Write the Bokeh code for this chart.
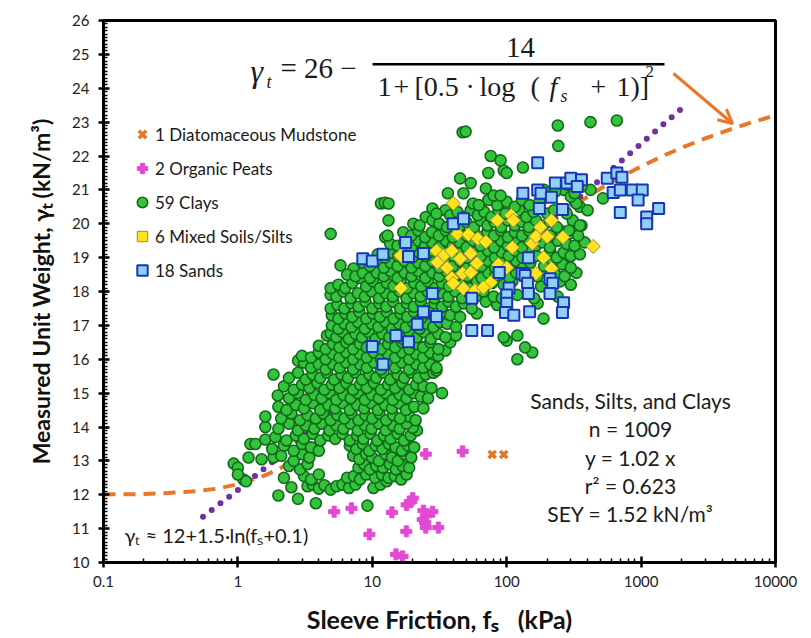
from bokeh.plotting import figure
from bokeh.models import (Label, Legend, LegendItem, BoxAnnotation, Arrow, OpenHead,
                          SingleIntervalTicker, FixedTicker, CustomJSTickFormatter)
from bokeh.embed import file_html
from bokeh.resources import INLINE

# ---------------- data ----------------
# fitted curve gamma_t = 26 - 14/(1+[0.5 log(fs+1)]^2)
orange_fs = [0.1, 0.2, 0.3, 0.5, 0.7, 1, 1.5, 2, 3, 5, 7, 10, 15, 20, 30, 50, 70, 100, 150,
             200, 300, 500, 700, 1000, 1500, 2000, 3000, 5000, 7000, 10000]
orange_gt = [12.01, 12.02, 12.05, 12.11, 12.18, 12.31, 12.53, 12.75, 13.16, 13.84, 14.37, 14.99,
             15.72, 16.26, 17.00, 17.90, 18.46, 19.02, 19.60, 19.98, 20.48, 21.04, 21.37, 21.69,
             22.03, 22.24, 22.52, 22.83, 23.02, 23.20]
# approximation gamma_t ~ 12 + 1.5 ln(fs + 0.1)
purple_fs = [0.55, 0.7, 1, 1.5, 2, 3, 5, 7, 10, 20, 30, 50, 70, 100, 200, 300, 500, 700, 1000, 1500, 2000]
purple_gt = [11.35, 11.67, 12.14, 12.71, 13.11, 13.70, 14.44, 14.94, 15.47, 16.50, 17.11, 17.87,
             18.38, 18.91, 19.95, 20.56, 21.32, 21.83, 22.36, 22.97, 23.40]

clay_fs = (
    [2.0, 2.8, 3.8, 9.2, 1.1, 1.15, 2.5, 3.3, 3.6, 4.0, 4.4, 4.9, 5.4, 6.0, 6.7, 7.5, 10.2, 11.5, 12.8]
    + [0.93, 1.0, 1.0, 1.2, 1.24, 1.35, 1.6, 1.84, 1.5]
    + [2.2, 3.1, 3.5, 4.0, 6.5, 7.3, 8.1, 9.0, 10.5, 11.8, 13.2, 14.7, 16.4, 18.0]
    + [2.4, 2.9, 3.3, 7.9, 8.7, 9.6, 10.7, 12.0, 13.5, 15.0, 16.8, 18.8]
    + [2.1, 2.6, 3.0, 3.4, 7.2, 8.0, 9.0, 10.0, 11.2, 12.5, 14.0, 15.5, 17.3, 19.5]
    + [1.8, 2.2, 2.6, 3.0, 3.5, 4.0, 6.8, 7.6, 8.5, 9.5, 10.6, 11.9, 13.3, 14.9, 16.6, 18.5, 20.5]
    + [1.9, 2.3, 2.7, 3.1, 3.6, 4.1, 4.7, 5.3, 6.0, 6.8, 7.7, 8.6, 9.7, 10.9, 12.2, 13.7, 15.4, 17.2, 19.3, 21.5, 20.0]
    + [1.6, 2.0, 2.4, 2.8, 3.2, 3.7, 4.2, 4.8, 5.4, 6.1, 6.9, 7.8, 8.8, 9.9, 11.2, 12.6, 14.2, 16.0, 18.0, 19.0]
    + [1.6, 2.1, 2.5, 2.9, 3.3, 3.8, 4.3, 4.9, 5.5, 6.2, 7.0, 7.9, 8.9, 10.0, 11.3, 12.7, 14.3, 16.1, 21.0]
    + [2.0, 2.3, 2.7, 3.1, 3.6, 4.1, 4.7, 5.3, 6.0, 6.8, 7.7, 8.7, 9.8, 11.0, 12.4, 14.0, 15.8, 17.8, 20.5, 24.0]
    + [1.98, 2.4, 2.8, 3.2, 3.7, 4.2, 4.8, 5.4, 6.1, 6.9, 7.8, 8.8, 9.9, 11.2, 12.6, 14.2, 16.0, 18.0, 20.3, 23.0, 26.0, 33.0]
    + [2.2, 2.6, 3.0, 3.4, 3.9, 4.4, 5.0, 5.7, 6.4, 7.2, 8.1, 9.1, 10.3, 11.6, 13.1, 14.8, 16.7, 18.8, 21.2, 24.0, 27.5]
    + [1.84, 2.4, 2.8, 3.2, 3.6, 4.1, 4.6, 5.2, 5.9, 6.6, 7.5, 8.4, 9.5, 10.7, 12.1, 13.6, 15.4, 17.3, 19.5, 22.0, 25.0, 28.5, 30.0]
    + [2.8, 3.1, 3.5, 4.0, 4.5, 5.1, 5.7, 6.4, 7.2, 8.1, 9.1, 10.3, 11.6, 13.1, 14.8, 16.7, 18.8, 21.2, 23.9, 27.0, 30.0]
    + [3.0, 3.5, 4.0, 4.5, 5.1, 5.7, 6.4, 7.2, 8.1, 9.1, 10.3, 11.6, 13.1, 14.8, 16.7, 18.8, 21.2, 23.9, 27.0, 31.0, 35.0, 120, 155, 137]
    + [4.0, 4.5, 5.1, 5.7, 6.4, 7.2, 8.1, 9.1, 10.3, 11.6, 13.1, 14.8, 16.7, 18.8, 21.2, 23.9, 27.0, 31.0, 38.0, 100]
    + [4.6, 4.9, 5.4, 6.0, 6.7, 7.5, 8.4, 9.4, 10.6, 11.9, 13.4, 15.1, 17.0, 19.1, 21.5, 24.2, 27.3, 31.0, 35.0, 95, 120, 42]
    + [5.0, 5.6, 6.2, 7.0, 7.8, 8.8, 9.9, 11.1, 12.5, 14.0, 15.8, 17.8, 20.0, 22.5, 25.3, 28.5, 32.0, 36.0, 42.0]
    + [5.0, 5.6, 6.3, 7.1, 8.0, 9.0, 10.1, 11.4, 12.8, 14.4, 16.2, 18.2, 20.5, 23.0, 26.0, 29.2, 33.0, 38.0, 45.0, 188, 60]
    + [4.9, 5.5, 6.2, 7.0, 7.9, 8.9, 10.0, 11.3, 12.7, 14.3, 16.1, 18.1, 20.4, 23.0, 26.0, 29.0, 33.0, 37.0, 42.0, 48.0, 55.0, 70.0, 170, 85]
    + [4.9, 5.4, 6.1, 6.9, 7.8, 8.8, 9.9, 11.2, 12.6, 14.2, 16.0, 18.0, 20.3, 22.9, 25.8, 29.0, 32.7, 36.8, 41.5, 46.7, 52.6, 59.0, 67.0, 80.0, 92.0, 120, 160, 240]
    + [4.9, 5.6, 6.3, 7.1, 8.1, 9.0, 10.1, 11.4, 12.8, 14.4, 16.2, 18.2, 20.5, 23.1, 26.0, 29.3, 33.0, 37.2, 42.0, 47.0, 53.0, 60.0, 68.0, 78.0, 95.0, 110, 180, 250, 300]
    + [5.8, 7.25, 6.5, 7.5, 8.5, 9.6, 10.8, 12.2, 13.7, 15.4, 17.4, 19.6, 22.0, 24.8, 28.0, 31.5, 35.5, 40.0, 45.0, 51.0, 57.0, 65.0, 73.0, 82.0, 93.0, 105, 118, 170, 200, 230, 270, 330]
    + [8.5, 9.6, 10.8, 12.2, 13.7, 15.4, 17.4, 19.6, 22.0, 24.8, 28.0, 31.5, 35.5, 40.0, 45.0, 51.0, 57.0, 65.0, 73.0, 82.0, 93.0, 105, 118, 133, 150, 190, 220, 260, 300]
    + [11.0, 12.4, 13.9, 15.6, 17.6, 19.8, 22.3, 25.0, 28.2, 31.7, 35.7, 40.2, 45.3, 51.0, 57.4, 64.6, 72.7, 81.8, 92.0, 103.6, 116.6, 131, 148, 166, 210, 236, 265, 300, 350]
    + [12.5, 13.6, 15.4, 17.3, 19.5, 22.0, 24.7, 27.8, 31.3, 35.3, 39.7, 44.7, 50.3, 56.6, 63.7, 71.7, 80.7, 90.8, 102, 115, 130, 146, 165, 185, 210, 240, 280, 320, 380]
    + [4.9, 13.0, 17.0, 19.5, 22.0, 24.7, 27.8, 31.3, 35.3, 39.7, 44.7, 50.3, 56.6, 63.7, 71.7, 80.7, 90.8, 102, 115, 130, 146, 165, 185, 210, 250, 290, 340, 360]
    + [13.2, 20.2, 25.0, 28.0, 22.5, 31.5, 36.0, 40.0, 45.0, 50.0, 57.0, 64.0, 72.0, 81.0, 91.0, 102, 115, 130, 146, 165, 186, 210, 236, 310, 350, 290]
    + [28.0, 35.0, 30.0, 38.0, 43.0, 48.0, 54.0, 61.0, 68.0, 77.0, 87.0, 98.0, 110, 124, 140, 158, 200, 225, 280, 350, 400, 330]
    + [56.0, 73.0, 36.5, 47.7, 62.0, 85.0, 100, 115, 130, 148, 175, 265, 300, 520, 420]
    + [70.0, 80.0, 90.0, 45.0, 54.0, 11.6, 12.4, 13.2, 190, 230, 285, 360, 320]
    + [73.0, 95.0, 100, 132, 90.0, 76.0, 242, 47.0, 49.5, 240, 420, 660]
)
clay_gt = (
    [11.98, 11.88, 11.75, 11.68, 12.45, 12.40, 12.22, 12.25, 12.30, 12.18, 12.28, 12.15, 12.25, 12.30, 12.20, 12.30, 12.20, 12.30, 12.40]
    + [12.92, 12.80, 12.60, 13.10, 13.50, 13.50, 13.63, 13.10, 13.05]
    + [12.50, 12.55, 12.45, 12.60, 12.50, 12.55, 12.45, 12.60, 12.50, 12.60, 12.50, 12.55, 12.45, 12.60]
    + [12.85, 12.75, 12.90, 12.80, 12.90, 12.75, 12.85, 12.80, 12.90, 12.75, 12.85, 12.80]
    + [13.15, 13.00, 13.20, 13.10, 13.15, 13.05, 13.20, 13.10, 13.00, 13.20, 13.10, 13.00, 13.20, 13.10]
    + [13.35, 13.45, 13.30, 13.50, 13.40, 13.30, 13.45, 13.35, 13.50, 13.30, 13.45, 13.35, 13.50, 13.40, 13.30, 13.45, 13.40]
    + [13.70, 13.60, 13.75, 13.65, 13.80, 13.60, 13.75, 13.65, 13.80, 13.60, 13.75, 13.65, 13.80, 13.60, 13.75, 13.65, 13.80, 13.60, 13.75, 13.90, 13.98]
    + [14.00, 13.95, 14.10, 13.90, 14.05, 13.95, 14.10, 13.90, 14.05, 13.95, 14.10, 13.90, 14.05, 13.95, 14.10, 13.90, 14.05, 13.95, 14.10, 14.30]
    + [14.31, 14.25, 14.40, 14.20, 14.35, 14.25, 14.40, 14.20, 14.35, 14.25, 14.40, 14.20, 14.35, 14.25, 14.40, 14.20, 14.35, 14.25, 14.20]
    + [14.60, 14.50, 14.65, 14.55, 14.70, 14.50, 14.65, 14.55, 14.70, 14.50, 14.65, 14.55, 14.70, 14.50, 14.65, 14.55, 14.70, 14.50, 14.60, 14.55]
    + [14.93, 14.85, 15.00, 14.80, 14.95, 14.85, 15.00, 14.80, 14.95, 14.85, 15.00, 14.80, 14.95, 14.85, 15.00, 14.80, 14.95, 14.85, 15.00, 14.90, 14.85, 15.00]
    + [15.20, 15.10, 15.25, 15.15, 15.30, 15.10, 15.25, 15.15, 15.30, 15.10, 15.25, 15.15, 15.30, 15.10, 15.25, 15.15, 15.30, 15.10, 15.25, 15.20, 15.15]
    + [15.55, 15.45, 15.60, 15.40, 15.55, 15.45, 15.60, 15.40, 15.55, 15.45, 15.60, 15.40, 15.55, 15.45, 15.60, 15.40, 15.55, 15.45, 15.60, 15.45, 15.55, 15.60, 15.67]
    + [15.96, 15.90, 15.75, 15.85, 15.70, 15.85, 15.75, 15.90, 15.70, 15.85, 15.75, 15.90, 15.70, 15.85, 15.75, 15.90, 15.70, 15.85, 15.75, 15.85, 15.75]
    + [16.10, 16.05, 16.20, 16.00, 16.15, 16.05, 16.20, 16.00, 16.15, 16.05, 16.20, 16.00, 16.15, 16.05, 16.20, 16.00, 16.15, 16.05, 16.20, 16.10, 16.26, 16.00, 16.20, 16.35]
    + [16.40, 16.30, 16.45, 16.35, 16.50, 16.30, 16.45, 16.35, 16.50, 16.30, 16.45, 16.35, 16.50, 16.30, 16.45, 16.35, 16.50, 16.30, 16.50, 16.55]
    + [16.70, 16.76, 16.65, 16.80, 16.60, 16.75, 16.65, 16.80, 16.60, 16.75, 16.65, 16.80, 16.60, 16.75, 16.65, 16.80, 16.60, 16.75, 16.65, 16.65, 16.70, 16.70]
    + [17.00, 16.90, 17.05, 16.95, 17.10, 16.90, 17.05, 16.95, 17.10, 16.90, 17.05, 16.95, 17.10, 16.90, 17.05, 16.95, 17.10, 17.05, 16.95]
    + [17.30, 17.20, 17.35, 17.25, 17.40, 17.20, 17.35, 17.25, 17.40, 17.20, 17.35, 17.25, 17.40, 17.20, 17.35, 17.25, 17.40, 17.30, 17.25, 17.20, 17.35]
    + [17.50, 17.60, 17.50, 17.65, 17.55, 17.70, 17.50, 17.65, 17.55, 17.70, 17.50, 17.65, 17.55, 17.70, 17.50, 17.65, 17.55, 17.70, 17.55, 17.65, 17.50, 17.70, 17.65, 17.60]
    + [17.90, 17.85, 18.00, 17.80, 17.95, 17.85, 18.00, 17.80, 17.95, 17.85, 18.00, 17.80, 17.95, 17.85, 18.00, 17.80, 17.95, 17.85, 18.00, 17.80, 17.95, 17.85, 18.00, 17.85, 17.80, 17.90, 17.80, 17.85]
    + [18.10, 18.20, 18.10, 18.25, 18.40, 18.15, 18.30, 18.10, 18.25, 18.15, 18.30, 18.10, 18.25, 18.15, 18.30, 18.10, 18.25, 18.15, 18.30, 18.20, 18.10, 18.30, 18.15, 18.25, 18.20, 18.30, 18.15, 18.30, 18.20]
    + [18.77, 18.68, 18.50, 18.45, 18.55, 18.40, 18.55, 18.45, 18.60, 18.40, 18.55, 18.45, 18.60, 18.40, 18.55, 18.45, 18.60, 18.40, 18.55, 18.45, 18.60, 18.40, 18.55, 18.45, 18.60, 18.40, 18.55, 18.45, 18.60, 18.50, 18.45, 18.55]
    + [18.85, 18.75, 18.90, 18.70, 18.85, 18.75, 18.90, 18.70, 18.85, 18.75, 18.90, 18.70, 18.85, 18.75, 18.90, 18.70, 18.85, 18.75, 18.90, 18.70, 18.85, 18.75, 18.90, 18.70, 18.85, 18.75, 18.90, 18.80, 18.70]
    + [19.10, 19.00, 19.15, 19.05, 19.20, 19.00, 19.15, 19.05, 19.20, 19.00, 19.15, 19.05, 19.20, 19.00, 19.15, 19.05, 19.20, 19.00, 19.15, 19.05, 19.20, 19.00, 19.15, 19.05, 19.20, 19.00, 19.15, 19.05, 19.10]
    + [19.60, 19.40, 19.35, 19.45, 19.30, 19.50, 19.35, 19.45, 19.30, 19.50, 19.35, 19.45, 19.30, 19.50, 19.35, 19.45, 19.30, 19.50, 19.35, 19.45, 19.30, 19.50, 19.35, 19.45, 19.30, 19.50, 19.40, 19.35, 19.45]
    + [19.70, 19.65, 19.75, 19.65, 19.80, 19.60, 19.75, 19.65, 19.80, 19.60, 19.75, 19.65, 19.80, 19.60, 19.75, 19.65, 19.80, 19.60, 19.75, 19.65, 19.80, 19.60, 19.75, 19.65, 19.80, 19.70, 19.65, 19.95]
    + [20.10, 20.00, 20.20, 20.10, 19.95, 20.00, 19.90, 20.10, 19.95, 20.05, 19.90, 20.10, 19.95, 20.05, 19.90, 20.10, 19.95, 20.05, 19.90, 20.10, 19.95, 20.05, 19.90, 20.10, 19.95, 19.80]
    + [20.45, 20.40, 20.30, 20.25, 20.35, 20.20, 20.40, 20.25, 20.35, 20.20, 20.40, 20.30, 20.25, 20.40, 20.20, 20.35, 20.30, 20.40, 20.30, 20.50, 20.40, 20.60]
    + [20.60, 20.70, 20.90, 20.90, 20.55, 20.55, 20.65, 20.50, 20.70, 20.55, 20.65, 21.00, 20.80, 20.75, 21.00]
    + [21.04, 20.83, 20.83, 21.34, 21.20, 20.60, 20.62, 20.60, 21.00, 20.95, 21.15, 21.10, 20.90]
    + [21.50, 21.57, 21.50, 21.66, 21.87, 22.00, 22.30, 22.70, 22.72, 22.90, 23.00, 23.05]
)

mixed_fs = [40, 85, 108, 112, 178, 215, 262, 440, 43, 52, 61, 70, 110, 155, 165, 200, 188, 30, 34, 39,
            30.5, 36, 45, 54, 60, 39, 47, 54, 40, 47.7, 58, 76, 67, 87, 100, 165, 215, 16.3, 16.3]
mixed_gt = [20.60, 20.10, 20.25, 20.10, 19.90, 20.10, 19.60, 19.33, 19.70, 19.68, 19.56, 19.47, 19.30,
            19.42, 19.62, 19.62, 19.00, 19.20, 19.06, 19.20, 18.86, 18.70, 18.97, 19.12, 18.83, 18.40,
            18.53, 18.56, 18.24, 18.09, 18.03, 18.27, 18.12, 18.80, 18.70, 18.53, 18.68, 18.10, 19.06]

sand_fs = [17.7, 8.5, 10.0, 12.0, 18.6, 24.0, 24.0, 21.6, 15.0, 18.6, 10.0, 12.0, 170, 230, 280, 300,
           360, 335, 132, 170, 180, 215, 560, 660, 720, 620, 700, 860, 1020, 950, 700, 1100, 1100, 260,
           175, 40, 47.7, 145, 88, 130, 137, 143, 210, 220, 104, 100, 145, 210, 265, 260, 28, 55, 100,
           98, 113, 148, 30, 55, 72, 1350]
sand_gt = [19.45, 18.97, 18.90, 19.10, 19.03, 19.12, 17.40, 17.03, 16.70, 16.52, 16.38, 15.85, 21.80,
           21.20, 21.20, 21.34, 21.30, 21.10, 20.90, 21.00, 20.90, 20.78, 21.34, 21.50, 21.37, 20.92,
           21.00, 21.00, 21.00, 20.70, 20.33, 20.20, 20.00, 20.42, 20.45, 20.00, 20.15, 19.00, 18.56,
           18.53, 18.47, 18.24, 18.38, 18.24, 18.10, 17.90, 17.94, 17.94, 17.67, 17.38, 17.94, 17.80,
           17.65, 17.38, 17.30, 17.40, 17.26, 16.85, 16.85, 20.45]

peat_fs = [25, 47, 5.2, 7.0, 14, 9.5, 17.9, 18, 19, 20, 19.5, 24, 28, 25, 23.7, 24.7, 25, 31, 15, 16.8]
peat_gt = [13.20, 13.28, 11.50, 11.60, 11.48, 10.83, 10.92, 11.70, 11.78, 11.90, 11.80, 11.53, 11.50,
           11.38, 11.27, 11.18, 11.03, 11.03, 10.24, 10.18]

mud_fs = [78, 95]
mud_gt = [13.19, 13.19]

legend_labels = ["1 Diatomaceous Mudstone", "2 Organic Peats", "59 Clays", "6 Mixed Soils/Silts", "18 Sands"]
x_ticks = [0.1, 1, 10, 100, 1000, 10000]

# ---------------- figure ----------------
L, B = 103, 562  # frame left / bottom in page pixels (layout only)
NB = "\u00a0"

p = figure(width=811, height=638, x_axis_type="log", x_range=(0.1, 10000), y_range=(10, 26),
           output_backend="svg", toolbar_location=None,
           min_border_left=103, min_border_right=36, min_border_top=20, min_border_bottom=76)
p.grid.visible = False
p.outline_line_color = "black"
p.outline_line_width = 3
p.background_fill_color = "white"
p.border_fill_color = "white"

p.xaxis.ticker = FixedTicker(ticks=x_ticks,
                             minor_ticks=[m * 10.0 ** e for e in range(-1, 4) for m in range(2, 10)])
p.xaxis.formatter = CustomJSTickFormatter(code="return tick >= 1 ? tick.toFixed(0) : tick.toString();")
p.yaxis.ticker = SingleIntervalTicker(interval=1, num_minor_ticks=10)

for ax in (p.xaxis[0], p.yaxis[0]):
    ax.axis_line_width = 3
    ax.axis_line_color = "black"
    ax.major_tick_line_width = 2.5
    ax.minor_tick_line_width = 1.5
    ax.major_tick_in = 6
    ax.major_tick_out = 5
    ax.minor_tick_in = 4
    ax.minor_tick_out = 0
    ax.major_label_text_font = "Lato"
    ax.major_label_text_font_size = "15px"
    ax.major_label_text_color = "#222222"
    ax.axis_label_text_font = "Lato"
    ax.axis_label_text_font_style = "bold"
    ax.axis_label_text_font_size = "23px"
    ax.axis_label_text_color = "#111111"

p.xaxis.axis_label = "Sleeve Friction," + NB + "fₛ" + NB * 3 + "(kPa)"
p.xaxis.axis_label_text_font_size = "25px"
p.yaxis.axis_label = "Measured Unit Weight, γₜ (kN/m³)"
p.xaxis.major_label_standoff = 8
p.yaxis.major_label_standoff = 9
p.xaxis.axis_label_standoff = 14
p.yaxis.axis_label_standoff = 14

# curves (behind markers)
p.line(orange_fs, orange_gt, line_color="#e8772a", line_width=4, line_dash="12 8")
p.line(purple_fs, purple_gt, line_color="#7030a0", line_width=6, line_dash="0 11", line_cap="round")

r_clay = p.scatter(clay_fs, clay_gt, marker="circle", size=11, fill_color="#34c43c",
                   line_color="#136a1c", line_width=1.6)
r_mix = p.scatter(mixed_fs, mixed_gt, marker="square", angle=0.785398, size=10, fill_color="#ffe31c",
                  line_color="#9a8a3a", line_width=1)
r_sand = p.scatter(sand_fs, sand_gt, marker="square", size=11, fill_color="#8fd0f4",
                   line_color="#1835b8", line_width=2)
r_peat = p.scatter(peat_fs, peat_gt, marker="plus", size=11, fill_color="#e24ad2",
                   line_color="#e24ad2", line_width=1)
r_mud = p.scatter(mud_fs, mud_gt, marker="x", size=10, line_color="#e2762a", line_width=3.5)

legend = Legend(items=[LegendItem(label=legend_labels[0], renderers=[r_mud]),
                       LegendItem(label=legend_labels[1], renderers=[r_peat]),
                       LegendItem(label=legend_labels[2], renderers=[r_clay]),
                       LegendItem(label=legend_labels[3], renderers=[r_mix]),
                       LegendItem(label=legend_labels[4], renderers=[r_sand])],
                location=(26, 279), orientation="vertical",
                border_line_alpha=0, background_fill_alpha=0,
                padding=0, margin=0, spacing=8, glyph_height=26, glyph_width=26,
                label_height=26, label_standoff=0,
                label_text_font="Lato", label_text_font_size="17px", label_text_color="#1a1a1a")
p.add_layout(legend)


def lab(text, X, Y, size, font="Lato", style="normal", align="left", color="#1a1a1a"):
    p.add_layout(Label(x=X - L, y=B - Y, x_units="screen", y_units="screen", text=text,
                       text_font=font, text_font_size=f"{size}px", text_font_style=style,
                       text_align=align, text_baseline="middle", text_color=color))


serif = "Liberation Serif"
lab("γ", 250, 70, 32, serif, "italic")
lab("t", 266, 81, 18, serif, "italic")
lab("= 26 −", 280, 67, 29, serif)
lab("14", 520, 47, 29, serif, align="center")
p.add_layout(BoxAnnotation(left=372 - L, right=664 - L, top=B - 62.5, bottom=B - 65,
                           left_units="screen", right_units="screen", top_units="screen",
                           bottom_units="screen", fill_color="black", fill_alpha=1, line_alpha=0))
lab("1", 377, 86, 28, serif)
lab("+", 393, 86, 28, serif)
lab("[0.5", 414, 86, 28, serif)
lab("·", 465, 86, 28, serif)
lab("log", 479, 86, 28, serif)
lab("(", 530, 86, 28, serif)
lab("f", 549, 86, 28, serif, "italic")
lab("s", 560, 95, 18, serif, "italic")
lab("+", 590, 86, 28, serif)
lab("1)]", 616, 86, 28, serif)
lab("2", 645, 71, 17, serif)

p.add_layout(Arrow(end=OpenHead(size=14, line_color="#e8772a", line_width=3),
                   x_start=673 - L, y_start=B - 73, x_end=732 - L, y_end=B - 123,
                   start_units="screen", end_units="screen",
                   line_color="#e8772a", line_width=3))

for t, Y in [("Sands, Silts, and Clays", 400), ("n = 1009", 428), ("y = 1.02 x", 457),
             ("r² = 0.623", 485), ("SEY = 1.52 kN/m³", 513)]:
    lab(t, 630, Y, 21, align="center")

lab("γₜ ≈ 12+1.5·ln(fₛ+0.1)", 124, 534, 20)

open("out.html", "w").write(file_html(p, INLINE))
